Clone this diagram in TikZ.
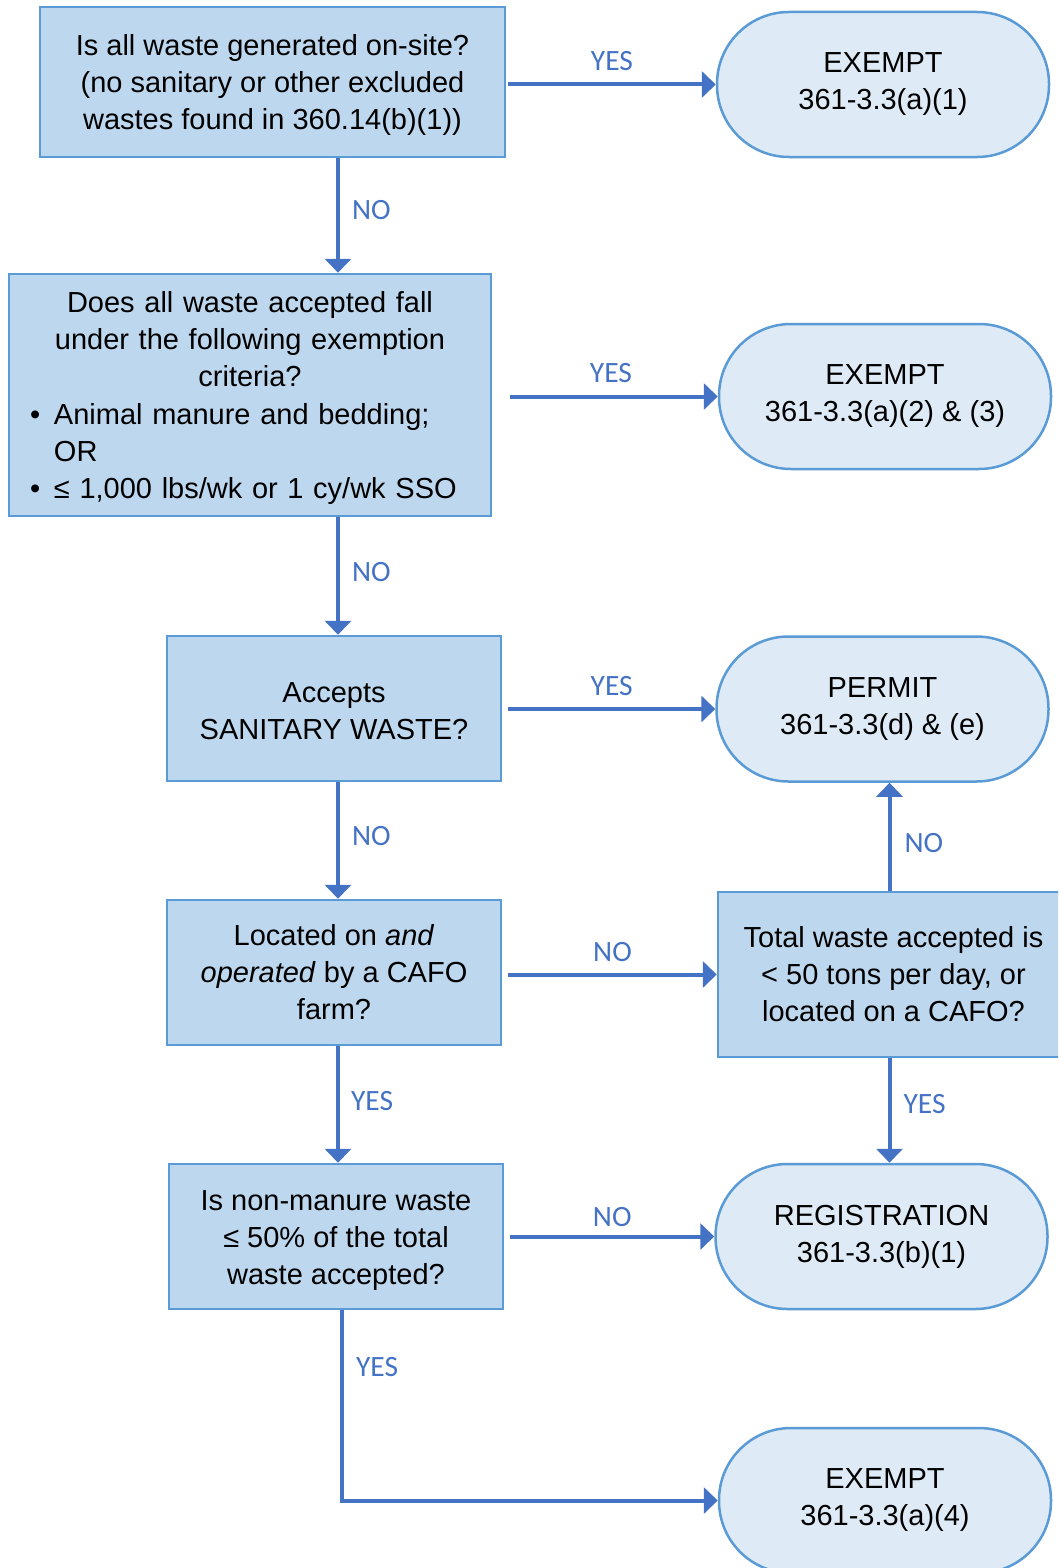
\documentclass[tikz,border=0pt]{standalone}
\usepackage{fontspec}
\setmainfont{Liberation Sans}
\newfontfamily\lblfont{Carlito}
\usetikzlibrary{arrows.meta,calc}
\definecolor{boxfill}{HTML}{BDD7EE}
\definecolor{boxline}{HTML}{5B9BD5}
\definecolor{termfill}{HTML}{DEEBF7}
\definecolor{arrowc}{HTML}{4472C4}
\begin{document}
\begin{tikzpicture}[x=1pt,y=-1pt,
  qbox/.style={draw=boxline, fill=boxfill, line width=2.5pt, inner sep=0pt, align=center,
    font=\fontsize{29}{37}\selectfont},
  term/.style={draw=boxline, fill=termfill, line width=2.5pt, rounded corners=72pt, inner sep=0pt,
    align=center, minimum width=332pt, minimum height=145pt, font=\fontsize{29}{37}\selectfont},
  flow/.style={draw=arrowc, line width=4pt, -{Triangle[length=14pt,width=26pt]}},
  lbl/.style={text=arrowc, font=\lblfont\fontsize{29.5}{30}\selectfont, inner sep=0pt}]
\useasboundingbox (0,0) rectangle (1058,1568);
\clip (0,0) rectangle (1058,1568);

% question boxes
\node[qbox, minimum width=465pt, minimum height=150pt] (b1) at (272.5,82)
  {\rule{0pt}{27pt}Is all waste generated on-site?\\(no sanitary or other excluded\\wastes found in 360.14(b)(1))};
\node[qbox, minimum width=482pt, minimum height=242pt, text width=440pt, align=left,
      font=\fontsize{29}{37.3}\selectfont] (b2) at (250,395)
  {{\centering\rule{0pt}{27pt}Does all waste accepted fall\\under the following exemption\\criteria?\par}
   \makebox[24pt][l]{•}Animal manure and bedding;\\
   \hspace*{24pt}OR\\
   \makebox[24pt][l]{•}≤ 1,000 lbs/wk or 1 cy/wk SSO};
\node[qbox, minimum width=334pt, minimum height=145pt] (b3) at (334,708.5)
  {\rule{0pt}{25pt}Accepts\\SANITARY WASTE?};
\node[qbox, minimum width=334pt, minimum height=145pt] (b4) at (334,972.5)
  {Located on \textit{and}\\\textit{operated} by a CAFO\\farm?};
\node[qbox, minimum width=334pt, minimum height=145pt] (b5) at (336,1236.5)
  {\rule{0pt}{28pt}Is non-manure waste\\≤ 50\% of the total\\waste accepted?};
\node[qbox, minimum width=351pt, minimum height=165pt] (b6) at (893.5,974.5)
  {Total waste accepted is\\< 50 tons per day, or\\located on a CAFO?};

% terminals
\node[term] (t1) at (883,84.5) {EXEMPT\\361-3.3(a)(1)};
\node[term] (t2) at (885,396.5) {EXEMPT\\361-3.3(a)(2) \& (3)};
\node[term] (t3) at (882.5,709) {PERMIT\\361-3.3(d) \& (e)};
\node[term] (t4) at (881.5,1236.5) {REGISTRATION\\361-3.3(b)(1)};
\node[term] (t5) at (885,1500.5) {EXEMPT\\361-3.3(a)(4)};

\coordinate (spine) at (338,0);
\coordinate (spineb) at (342,0);
\coordinate (spinec) at (889.5,0);

% horizontal connectors
\draw[flow] ([xshift=2pt]b1.east |- t1.west) -- (t1.west) node[lbl, midway, above=12pt] {YES};
\draw[flow] ([xshift=18pt]b2.east |- t2.west) -- (t2.west) node[lbl, midway, above=12pt, xshift=-3pt] {YES};
\draw[flow] ([xshift=6pt]b3.east |- t3.west) -- (t3.west) node[lbl, midway, above=11pt] {YES};
\draw[flow] ([xshift=6pt]b4.east |- b6.west) -- (b6.west) node[lbl, midway, above=11pt] {NO};
\draw[flow] ([xshift=6pt]b5.east |- t4.west) -- (t4.west) node[lbl, midway, above=8pt] {NO};

% vertical connectors
\draw[flow] (b1.south -| spine) -- (b2.north -| spine) node[lbl, midway, right=12pt, yshift=5pt] {NO};
\draw[flow] (b2.south -| spine) -- (b3.north -| spine) node[lbl, midway, right=12pt, yshift=4pt] {NO};
\draw[flow] (b3.south -| spine) -- (b4.north -| spine) node[lbl, midway, right=12pt, yshift=4pt] {NO};
\draw[flow] (b4.south -| spine) -- (b5.north -| spine) node[lbl, midway, right=11pt, yshift=3pt] {YES};
\draw[flow] (b6.north -| spinec) -- (t3.south -| spinec) node[lbl, midway, right=13pt, yshift=-6pt] {NO};
\draw[flow] (b6.south -| spinec) -- (t4.north -| spinec) node[lbl, midway, right=12pt, yshift=6pt] {YES};
\draw[flow] (b5.south -| spineb) |- (t5.west) node[lbl, pos=0.15, right=12pt] {YES};
\end{tikzpicture}
\end{document}
